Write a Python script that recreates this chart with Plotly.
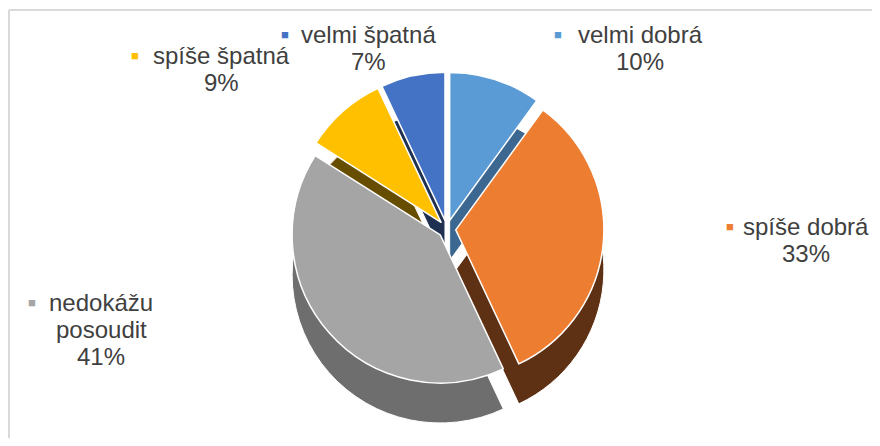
import plotly.graph_objects as go

# ── Data ───────────────────────────────────────────────────────────────────────
labels = ["velmi dobrá", "spíše dobrá", "nedokážu posoudit", "spíše špatná", "velmi špatná"]
values = [10, 33, 41, 9, 7]

# ── Theme ──────────────────────────────────────────────────────────────────────
PAGE_PAD = 8               # default body margin of the html page
W, H = 880 - 2 * PAGE_PAD, 446 - 2 * PAGE_PAD
TEXT = "#404040"
FONT = "Liberation Sans, Arial, sans-serif"
FRAME = "#D9D9D9"
TOP_COLORS = ["#5B9BD5", "#ED7D31", "#A5A5A5", "#FFC000", "#4472C4"]
SIDE_COLORS = ["#3C6790", "#5E3014", "#6E6E6E", "#664D00", "#1F3050"]

# label layout (window pixel positions of the label blocks, as in the Excel original)
# name lines, bullet x, text centre x, first line y
LABEL_LINES = [["velmi dobrá"], ["spíše dobrá"], ["nedokážu", "posoudit"], ["spíše špatná"], ["velmi špatná"]]
LABEL_POS = [(558, 640, 35), (730, 806, 226), (32, 101, 302), (135, 221, 55), (285, 368, 34)]
LINE_STEP = 27


def px(x):
    return (x - PAGE_PAD) / W


def py(y):
    return 1 - (y - PAGE_PAD) / H


PIE_X = [0.19, 0.826]
PIE_Y = [py(386), py(72)]
DEPTH = 40 / H  # thickness of the pie

fig = go.Figure()

# darker copy shifted down = side walls of the 3D pie
fig.add_trace(
    go.Pie(
        labels=labels,
        values=values,
        sort=False,
        direction="clockwise",
        rotation=0,
        pull=[0.06] * len(values),
        marker=dict(colors=SIDE_COLORS, line=dict(color="#ffffff", width=1)),
        textinfo="none",
        showlegend=False,
        hoverinfo="skip",
        domain=dict(x=PIE_X, y=[PIE_Y[0] - DEPTH, PIE_Y[1] - DEPTH]),
    )
)
fig.add_trace(
    go.Pie(
        labels=labels,
        values=values,
        sort=False,
        direction="clockwise",
        rotation=0,
        pull=[0.06] * len(values),
        marker=dict(colors=TOP_COLORS, line=dict(color="#ffffff", width=1.5)),
        textinfo="none",
        showlegend=False,
        domain=dict(x=PIE_X, y=PIE_Y),
        hovertemplate="%{label}: %{value}%<extra></extra>",
    )
)

annotations = []
for lines, val, col, (bx, cx, y0) in zip(LABEL_LINES, values, TOP_COLORS, LABEL_POS):
    annotations.append(dict(x=px(bx), y=py(y0), xref="paper", yref="paper", text="■",
                            showarrow=False, xanchor="center", yanchor="middle",
                            font=dict(color=col, size=13, family=FONT)))
    for i, ln in enumerate(lines + [f"{val}%"]):
        annotations.append(dict(x=px(cx), y=py(y0 + i * LINE_STEP), xref="paper", yref="paper",
                                text=ln, showarrow=False, xanchor="center", yanchor="middle",
                                font=dict(color=TEXT, size=24, family=FONT)))

fig.update_layout(
    width=W,
    height=H,
    paper_bgcolor="#ffffff",
    plot_bgcolor="#ffffff",
    font=dict(color=TEXT, family=FONT),
    margin=dict(l=0, r=0, t=0, b=0),
    annotations=annotations,
    shapes=[
        dict(type="line", xref="paper", yref="paper", x0=px(9), x1=px(9), y0=0, y1=py(10),
             line=dict(color=FRAME, width=2)),
        dict(type="line", xref="paper", yref="paper", x0=px(9), x1=1, y0=py(10), y1=py(10),
             line=dict(color=FRAME, width=2)),
    ],
)

fig.write_html("out.html")
